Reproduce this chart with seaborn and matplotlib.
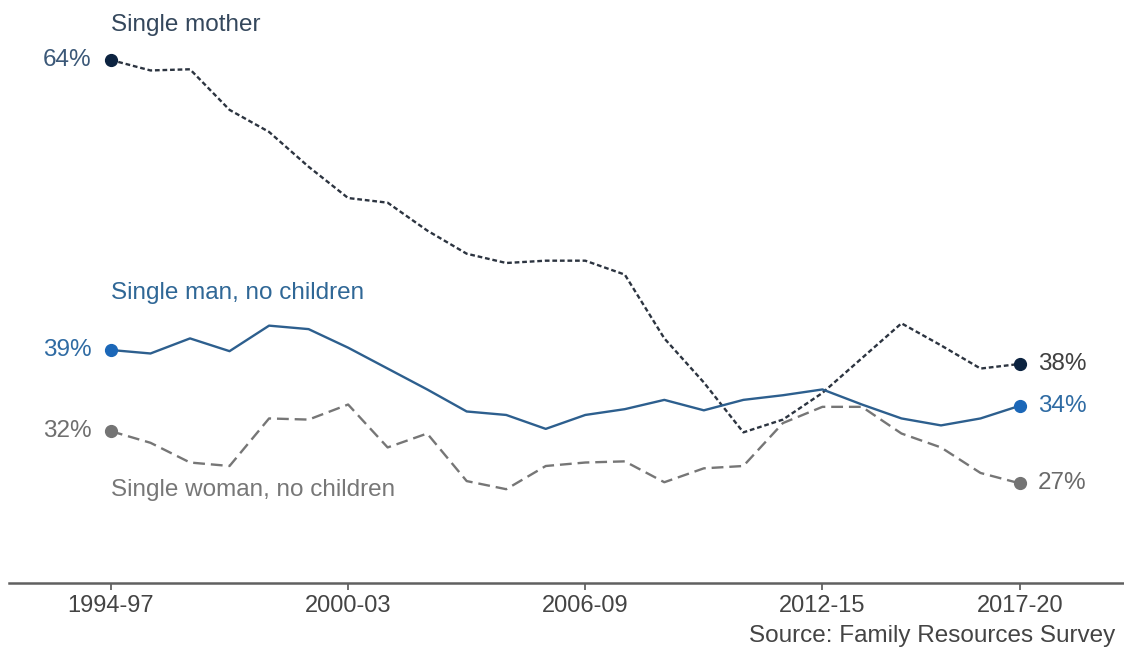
import matplotlib
matplotlib.use("Agg")
import matplotlib.pyplot as plt
import seaborn as sns
import pandas as pd

periods = ["1994-97", "1995-98", "1996-99", "1997-00", "1998-01", "1999-02",
           "2000-03", "2001-04", "2002-05", "2003-06", "2004-07", "2005-08",
           "2006-09", "2007-10", "2008-11", "2009-12", "2010-13", "2011-14",
           "2012-15", "2013-16", "2014-17", "2015-18", "2016-19", "2017-20"]

single_mother = [64.0, 63.1, 63.2, 59.7, 57.8, 54.8, 52.1, 51.7, 49.3, 47.3, 46.5, 46.7,
                 46.7, 45.5, 40.0, 36.2, 31.9, 33.0, 35.3, 38.3, 41.3, 39.4, 37.4, 37.8]
single_man = [39.0, 38.7, 40.0, 38.9, 41.1, 40.8, 39.2, 37.4, 35.6, 33.7, 33.4, 32.2,
              33.4, 33.9, 34.7, 33.8, 34.7, 35.1, 35.6, 34.3, 33.1, 32.5, 33.1, 34.2]
single_woman = [32.0, 31.0, 29.3, 29.0, 33.1, 33.0, 34.3, 30.6, 31.8, 27.7, 27.0, 29.0,
                29.3, 29.4, 27.6, 28.8, 29.0, 32.7, 34.1, 34.1, 31.8, 30.6, 28.4, 27.5]

series_names = ["Single mother", "Single man, no children", "Single woman, no children"]
start_labels = ["64%", "39%", "32%"]
end_labels = ["38%", "34%", "27%"]
tick_labels = ["1994-97", "2000-03", "2006-09", "2012-15", "2017-20"]
source_text = "Source: Family Resources Survey"

sns.set_theme(style="white")
plt.rcParams["font.family"] = ["Liberation Sans", "DejaVu Sans"]

df = pd.DataFrame({"period": periods * 3,
                   "value": single_mother + single_man + single_woman,
                   "series": [s for s in series_names for _ in periods]})

line_colors = {"Single mother": "#2c3440", "Single man, no children": "#2d5f8e",
               "Single woman, no children": "#767676"}
marker_colors = ["#0c2340", "#1b67b8", "#747474"]
start_text_colors = ["#3b5878", "#2f6ba3", "#6f6f6f"]
end_text_colors = ["#404040", "#2f6ba3", "#6a6a6a"]
title_colors = ["#34475c", "#2f6796", "#777777"]
dash_styles = {"Single mother": (2.0, 1.2), "Single man, no children": "",
               "Single woman, no children": (5.0, 2.5)}

FS = 17.5

fig = plt.figure(figsize=(11.24, 6.49), dpi=100)
ax = fig.add_axes([0.008, 1 - 583 / 649, 0.992, 583 / 649])

sns.lineplot(data=df, x="period", y="value", hue="series", style="series",
             palette=line_colors, dashes=dash_styles, linewidth=1.7,
             legend=False, ax=ax, sort=False)

n = len(periods)
series_vals = [single_mother, single_man, single_woman]
for i, vals in enumerate(series_vals):
    ax.plot([0, n - 1], [vals[0], vals[-1]], "o", color=marker_colors[i],
            markersize=8.5, zorder=5)
    ax.text(-0.5, vals[0], start_labels[i], ha="right", va="center",
            fontsize=FS, color=start_text_colors[i])
    ax.text(n - 1 + 0.45, vals[-1], end_labels[i], ha="left", va="center",
            fontsize=FS, color=end_text_colors[i])

# series titles
ax.text(0, 67.0, series_names[0], ha="left", va="center", fontsize=FS, color=title_colors[0])
ax.text(0, 43.9, series_names[1], ha="left", va="center", fontsize=FS, color=title_colors[1])
ax.text(0, 26.9, series_names[2], ha="left", va="center", fontsize=FS, color=title_colors[2])

ax.set_xlim(-2.58, 25.63)
ax.set_ylim(64 - (583 - 60) / 11.6, 64 + 60 / 11.6)
ax.set_xticks([periods.index(t) for t in tick_labels])
ax.set_xticklabels(tick_labels, fontsize=FS - 0.5, color="#444444")
ax.set_yticks([])
ax.set_xlabel("")
ax.set_ylabel("")
for side in ["top", "right", "left"]:
    ax.spines[side].set_visible(False)
ax.spines["bottom"].set_color("#606060")
ax.spines["bottom"].set_linewidth(1.8)
ax.tick_params(axis="x", direction="out", length=5, width=1.2, color="#555555", pad=4, bottom=True)

fig.text(1115 / 1124, 1 - 636 / 649, source_text, ha="right", va="center",
         fontsize=FS, color="#444444")

fig.savefig("out.png", dpi=100)
